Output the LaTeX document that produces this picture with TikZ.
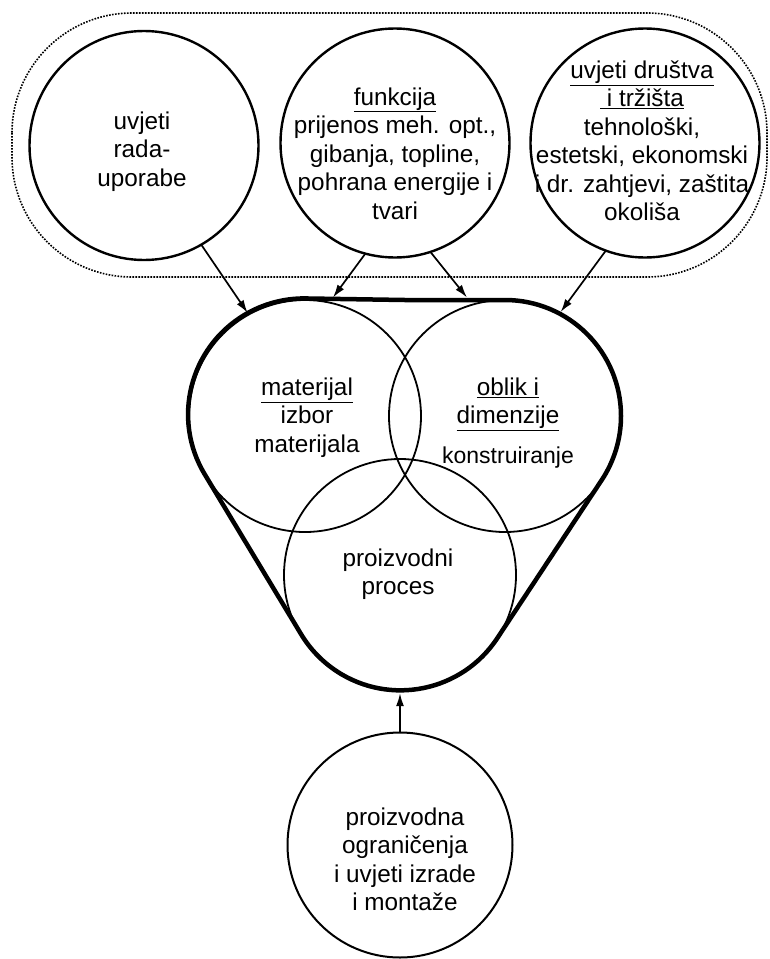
\documentclass[tikz,border=0pt]{standalone}
\usepackage{fontspec}
\setmainfont{Liberation Sans}
\usetikzlibrary{arrows.meta,calc}
\begin{document}
\begin{tikzpicture}[x=1pt,y=1pt,
  circ/.style={draw, circle, inner sep=0pt, outer sep=0pt, minimum size=#1},
  topc/.style={circ=229pt, line width=2.4pt},
  midc/.style={circ=232pt, line width=1.8pt},
  hull/.style={line width=4.5pt, line join=round},
  txt/.style={align=center, font=\fontsize{24.3}{28.5}\selectfont, inner sep=0pt},
  arr/.style={line width=1.7pt, -{Latex[length=13pt,width=8pt]}},
  grp/.style={line width=1.6pt, dash pattern=on 1.6pt off 1.4pt, rounded corners=120pt}]
\useasboundingbox (0,0) rectangle (769,-959);
% dotted group frame
\draw[grp] (12,-13) rectangle (767,-277);
% top circles
\node[topc] (L) at (144,-145.5) {};
\node[topc] (M) at (395,-143) {};
\node[topc] (R) at (645,-143) {};
% central circles
\node[midc] (A) at (305,-416) {};
\node[midc] (B) at (505,-416) {};
\node[midc] (C) at (400,-575) {};
% bottom circle
\node[circ=225pt, line width=2pt] (P) at (400,-845) {};
% thick hull
\coordinate (t0) at ($(A.90)!0.5!(B.90)$);
\draw[hull] (t0) -- (B.90) arc[start angle=90, end angle=-33.4, radius=116]
  -- (C.-33.4) arc[start angle=-33.4, end angle=-149.1, radius=116]
  -- (A.210.9) arc[start angle=210.9, end angle=90, radius=116] -- cycle;
% arrow targets on the hull top line
\coordinate (t1) at ($(A.90)!0.14!(B.90)+(0,2.5)$);
\coordinate (t2) at ($(A.90)!0.81!(B.90)+(0,2.5)$);
% arrows
\draw[arr, shorten >=2pt] (L.-60) -- (A.119);
\draw[arr] (M.-105) -- (t1);
\draw[arr] (M.-72) -- (t2);
\draw[arr, shorten >=2pt] (R.-110) -- (B.62);
\draw[arr, shorten >=2.2pt] (P.north) -- (C.south);
% texts
\node[txt] (Lt) at (142,-151.5) {uvjeti\\rada-\\uporabe};
\node[txt] (Mt) at (395,-153.5) {\underline{funkcija}\\prijenos meh. opt.,\\gibanja, topline,\\pohrana energije i\\tvari};
\node[txt] (Rt) at (642,-141) {\underline{uvjeti društva}\\\underline{\ i tržišta}\\tehnološki,\\estetski, ekonomski\\i dr. zahtjevi, zaštita\\okoliša};
\node[txt] (At) at (307,-417.5) {\underline{materijal}\\izbor\\materijala};
\node[txt] (Bt) at (508,-423) {\underline{oblik i}\\\underline{dimenzije}\\[11pt]{\fontsize{23}{28}\selectfont konstruiranje}};
\node[txt] (Ct) at (398,-574) {proizvodni\\proces};
\node[txt] (Pt) at (405,-859.5) {proizvodna\\ograničenja\\i uvjeti izrade\\i montaže};
\end{tikzpicture}
\end{document}
